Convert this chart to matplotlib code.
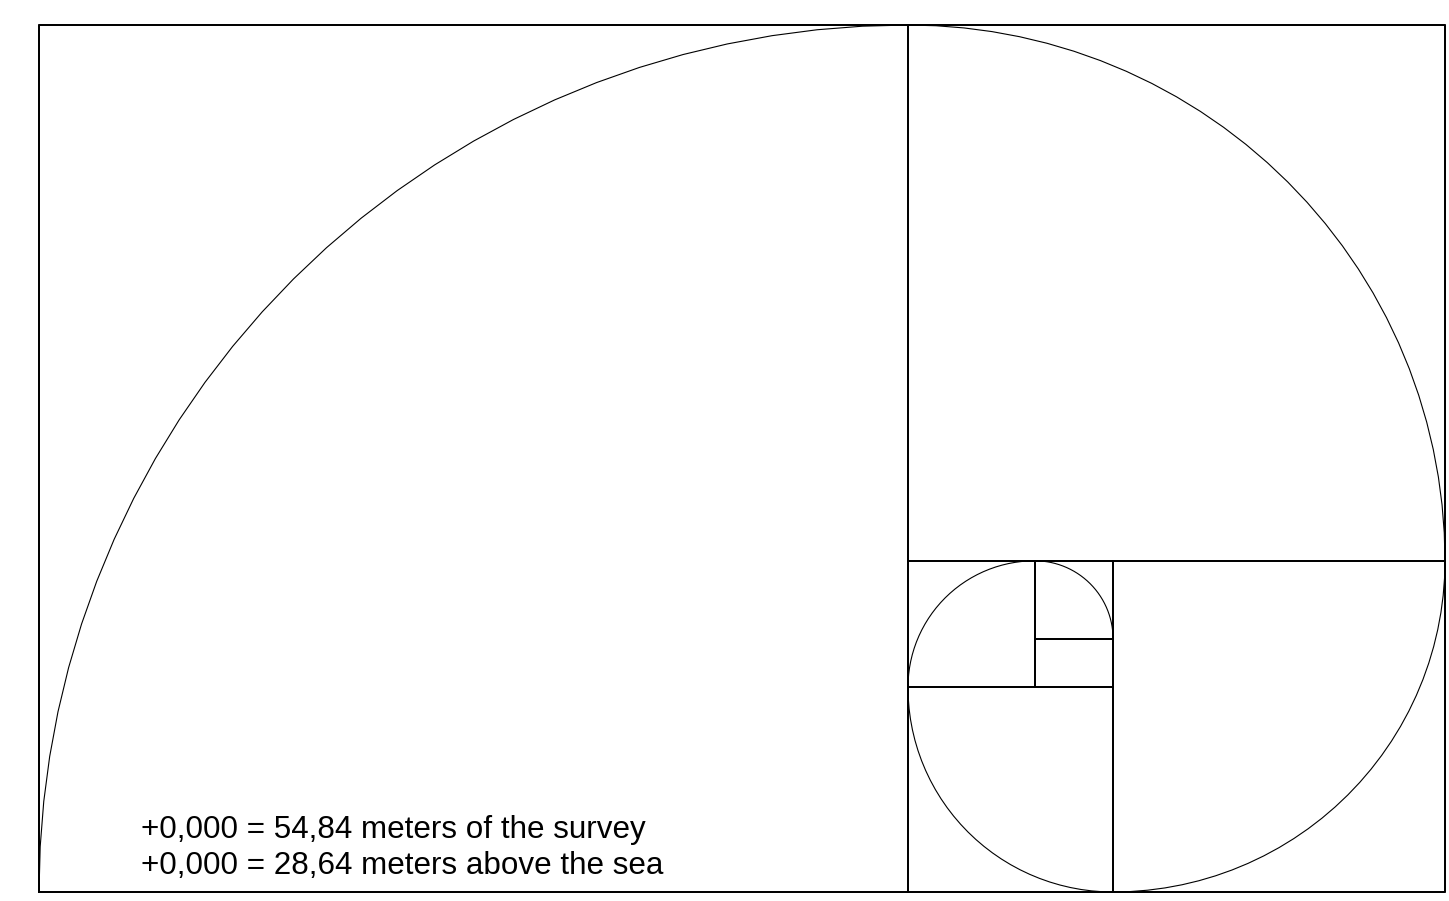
import numpy as np
import matplotlib
matplotlib.use("Agg")
import matplotlib.pyplot as plt

# golden spiral: side of each square, largest first (largest = 1)
sides = [1.0, 0.618, 0.382, 0.236, 0.146, 0.090]
# start angle of the quarter arc inside each square (degrees)
arc_start = [180, 90, 0, -90, 180, 90]
notes = ["+0,000 = 54,84 meters of the survey",
         "+0,000 = 28,64 meters above the sea"]

PHI = 1.618
N_SEG = 30


def square_corners(sides):
    # lay the squares out clockwise, each one cut from what is left
    x0, y0, x1, y1 = 0.0, 0.0, PHI, 1.0
    out = []
    for i, s in enumerate(sides):
        k = i % 4
        if k == 0:      # left
            sq = (x0, y0, s); x0 += s
        elif k == 1:    # top
            sq = (x0, y1 - s, s); y1 -= s
        elif k == 2:    # right
            sq = (x1 - s, y0, s); x1 -= s
        else:           # bottom
            sq = (x0, y0, s); y0 += s
        out.append(sq)
    return out, (x0, y0, x1, y1)


fig = plt.figure(figsize=(14.49, 9.01), dpi=100)
ax = fig.add_axes([39 / 1449, 9 / 901, 1406 / 1449, 867 / 901])
ax.set_xlim(0, PHI)
ax.set_ylim(0, 1)
ax.axis("off")

squares, rest = square_corners(sides)
rect_kw = dict(color="black", lw=1.3, clip_on=False, solid_capstyle="projecting")

# outer rectangle
ax.plot([0, PHI, PHI, 0, 0], [0, 0, 1, 1, 0], **rect_kw)

for (x, y, s), a0 in zip(squares, arc_start):
    ax.plot([x, x + s, x + s, x, x], [y, y, y + s, y + s, y], **rect_kw)
    # centre of the arc is the square corner the arc turns around
    ang = np.radians(np.linspace(a0, a0 - 90, N_SEG + 1))
    cx = x + s if a0 in (180, -90) else x
    cy = y if a0 in (180, 90) else y + s
    if a0 == 0:
        cx, cy = x, y + s
    ax.plot(cx + s * np.cos(ang), cy + s * np.sin(ang), color="black", lw=0.8,
            clip_on=False)

rx0, ry0, rx1, ry1 = rest
ax.plot([rx0, rx1, rx1, rx0, rx0], [ry0, ry0, ry1, ry1, ry0], **rect_kw)

for i, t in enumerate(notes):
    ax.text(0.1175, 0.062 - i * 0.0415, t, fontsize=22.6, family="Liberation Sans",
            va="baseline", ha="left")

fig.savefig("out.png", dpi=100)
